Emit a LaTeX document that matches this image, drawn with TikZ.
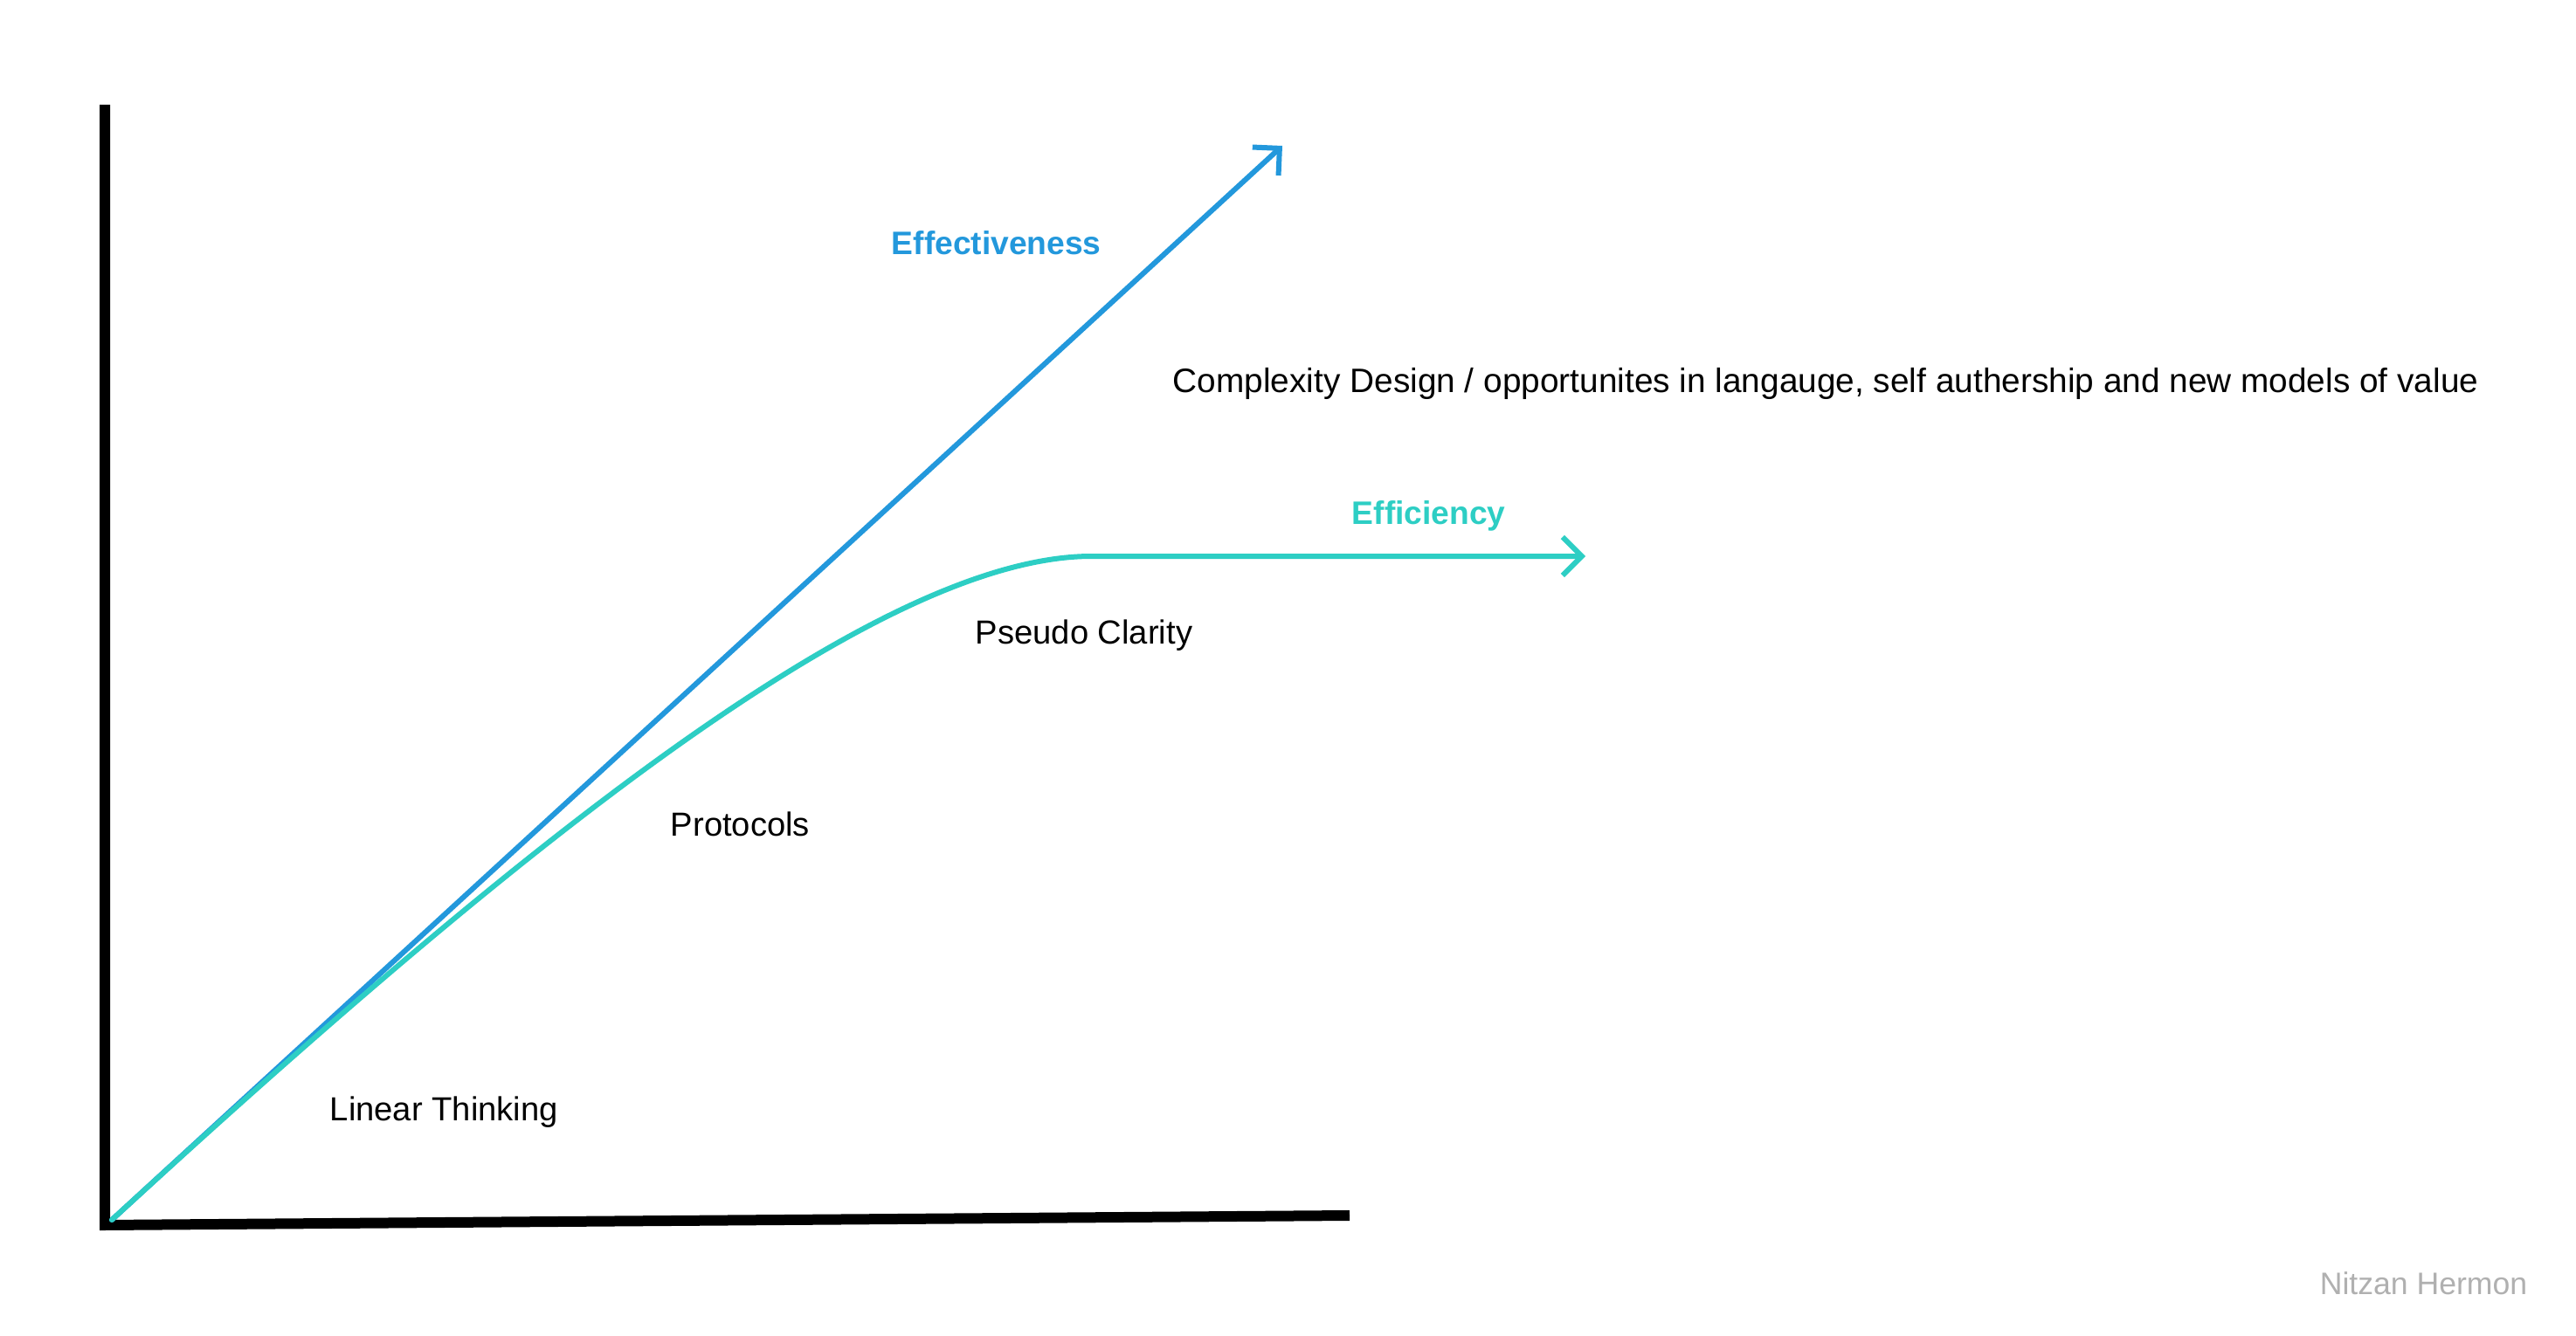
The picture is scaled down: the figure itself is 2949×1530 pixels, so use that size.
\documentclass[tikz,border=0pt]{standalone}
\usepackage{fontspec}
\setmainfont{Liberation Sans}
\usetikzlibrary{arrows.meta}
\definecolor{effblue}{HTML}{2398DC}
\definecolor{effteal}{HTML}{2DCEC4}
\definecolor{credgray}{HTML}{B0B0B0}
\tikzset{
  axisline/.style={line width=3pt, line join=miter, line cap=butt, black},
  curveline/.style={line width=1.5pt, line cap=round, -{Straight Barb[length=5.5pt,width=11pt]}},
  lbl/.style={inner sep=0pt, anchor=base west, font=\fontsize{9.55}{11}\selectfont},
  headlbl/.style={inner sep=0pt, anchor=base west, font=\fontsize{9.3}{11}\selectfont\bfseries},
  credit/.style={inner sep=0pt, anchor=base west, text=credgray, font=\fontsize{8.9}{11}\selectfont}
}
\begin{document}
\begin{tikzpicture}[x=0.25pt,y=-0.25pt]
\useasboundingbox[fill=white] (0,0) rectangle (2949,1530);
% axes
\coordinate (ytop) at (120,120);
\coordinate (corner) at (120,1403);
\coordinate (xend) at (1545,1392);
\draw[axisline] (ytop) -- (corner) -- (xend);
% curves
\coordinate (O) at (128,1397);
\coordinate (etip) at (1468,167);
\coordinate (c1) at (578,984);
\coordinate (c2) at (1000,637);
\coordinate (fflat) at (1250,637);
\coordinate (ftip) at (1815,637);
\draw[curveline, effblue] (O) -- (etip);
\draw[curveline, effteal] (O) .. controls (c1) and (c2) .. (fflat) -- (ftip);
% labels
\node[headlbl, text=effblue] (effect) at (1020,292) {Effectiveness};
\node[headlbl, text=effteal] (effic) at (1547,600) {Efficiency};
\node[lbl, font=\fontsize{9.7}{11}\selectfont] (complex) at (1342,450) {Complexity Design / opportunites in langauge, self authership and new models of value};
\node[lbl] (pseudo) at (1116,737) {Pseudo Clarity};
\node[lbl] (proto) at (767,957) {Protocols};
\node[lbl] (linear) at (377,1283) {Linear Thinking};
\node[credit] (credit) at (2655,1482) {Nitzan Hermon};
\end{tikzpicture}
\end{document}
